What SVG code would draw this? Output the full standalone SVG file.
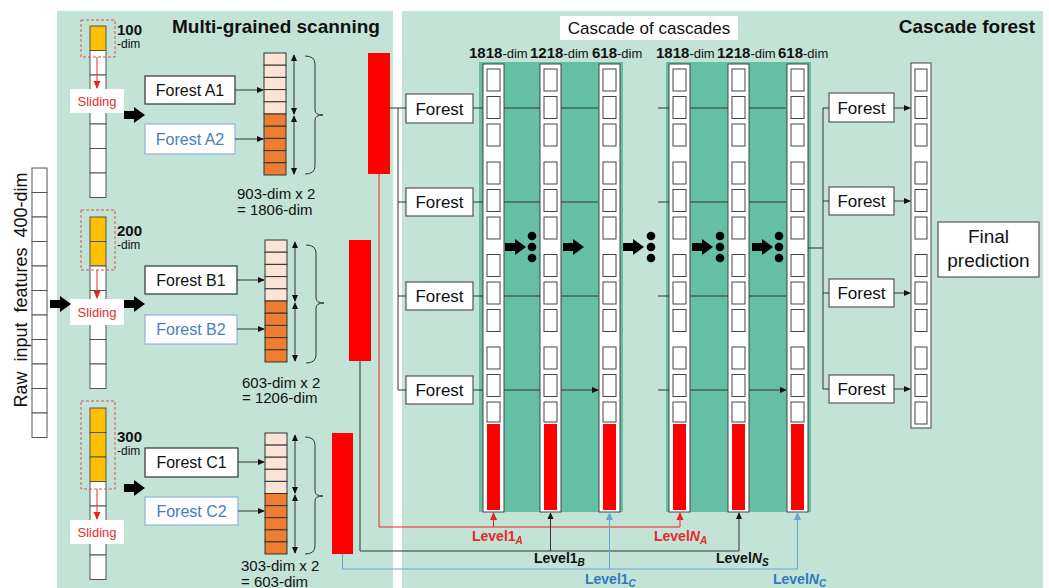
<svg xmlns="http://www.w3.org/2000/svg" xmlns:xlink="http://www.w3.org/1999/xlink" width="1049" height="588" viewBox="0 0 1049 588">
<style>
text{font-family:"Liberation Sans",Arial,sans-serif;fill:#111}
.bg{fill:#c2e3d6}
.band{fill:#64bfa5}
.cell{fill:#fff;stroke:#555;stroke-width:1}
.ccell{fill:#fff;stroke:#444;stroke-width:1}
.org{fill:#ffc000;stroke:#555;stroke-width:1}
.pch{fill:#fbe4d5;stroke:#333;stroke-width:1}
.ora{fill:#ed7d31;stroke:#333;stroke-width:1}
.fbox{fill:#fff;stroke:#333;stroke-width:1.2}
.gbox{fill:#fff;stroke:#555;stroke-width:1.2}
.bbox{fill:#fff;stroke:#8fb1dc;stroke-width:1.2}
.ln{stroke:#333;stroke-width:1;fill:none}
.rl{stroke:#ee2222;stroke-width:1;fill:none}
.bl{stroke:#6aa3d8;stroke-width:1;fill:none}
.dash{fill:none;stroke:#e05050;stroke-width:1;stroke-dasharray:3,2}
.red{fill:#ff0000}
.f16{font-size:16px}
.f17{font-size:17px}
.lv{font-size:14px;font-weight:bold}
.sub{font-size:10px;font-style:italic}
</style>
<defs>
<marker id="ak" viewBox="0 0 8 8" refX="7" refY="4" markerWidth="7" markerHeight="7" markerUnits="userSpaceOnUse" orient="auto-start-reverse"><path d="M0,0.5L8,4L0,7.5Z" fill="#111"/></marker>
<marker id="ar" viewBox="0 0 8 8" refX="7" refY="4" markerWidth="8" markerHeight="8" markerUnits="userSpaceOnUse" orient="auto"><path d="M0,0.5L8,4L0,7.5Z" fill="#ee2222"/></marker>
<marker id="ab" viewBox="0 0 8 8" refX="7" refY="4" markerWidth="8" markerHeight="8" markerUnits="userSpaceOnUse" orient="auto"><path d="M0,0.5L8,4L0,7.5Z" fill="#6aa3d8"/></marker>
<path id="barr" d="M0,-4H10V-8L21,0L10,8V4H0Z" fill="#000"/>
<g id="ccol">
<rect x="0" y="64" width="21" height="448" fill="#fff" stroke="#444" stroke-width="1"/>
<rect class="ccell" x="4" y="69" width="13" height="22"/>
<rect class="ccell" x="4" y="96.5" width="13" height="22"/>
<rect class="ccell" x="4" y="124" width="13" height="22"/>
<rect class="ccell" x="4" y="162" width="13" height="22"/>
<rect class="ccell" x="4" y="189.5" width="13" height="22"/>
<rect class="ccell" x="4" y="217" width="13" height="22"/>
<rect class="ccell" x="4" y="254.5" width="13" height="22"/>
<rect class="ccell" x="4" y="282" width="13" height="22"/>
<rect class="ccell" x="4" y="309.5" width="13" height="22"/>
<rect class="ccell" x="4" y="347" width="13" height="22"/>
<rect class="ccell" x="4" y="374.5" width="13" height="22"/>
<rect class="ccell" x="4" y="402" width="13" height="20"/>
<rect class="red" x="4" y="424" width="13" height="86"/>
</g>
<g id="fcol">
<rect x="0" y="63" width="20" height="365" fill="#fff" stroke="#444" stroke-width="1"/>
<rect class="ccell" x="4" y="69" width="12" height="22"/>
<rect class="ccell" x="4" y="96.5" width="12" height="22"/>
<rect class="ccell" x="4" y="124" width="12" height="22"/>
<rect class="ccell" x="4" y="162" width="12" height="22"/>
<rect class="ccell" x="4" y="189.5" width="12" height="22"/>
<rect class="ccell" x="4" y="217" width="12" height="22"/>
<rect class="ccell" x="4" y="254.5" width="12" height="22"/>
<rect class="ccell" x="4" y="282" width="12" height="22"/>
<rect class="ccell" x="4" y="309.5" width="12" height="22"/>
<rect class="ccell" x="4" y="347" width="12" height="22"/>
<rect class="ccell" x="4" y="374.5" width="12" height="22"/>
<rect class="ccell" x="4" y="402" width="12" height="22"/>
</g>
</defs>

<rect x="0" y="0" width="1049" height="588" fill="#fff"/>
<rect class="bg" x="57" y="11" width="336" height="577"/>
<rect class="bg" x="402" y="11" width="641" height="577"/>
<rect class="band" x="479" y="62" width="144" height="450"/>
<rect class="band" x="666" y="62" width="145" height="450"/>

<text x="172" y="33" font-size="19" font-weight="bold">Multi-grained scanning</text>
<text x="1035" y="33" font-size="19" font-weight="bold" text-anchor="end">Cascade forest</text>
<g id="cascade-title">
<rect x="560" y="16" width="178" height="24" fill="#fff"/>
<text x="649" y="34" class="f17" text-anchor="middle">Cascade of cascades</text>
</g>

<g id="raw-input">
<rect class="cell" x="32" y="168" width="15" height="24.5"/>
<rect class="cell" x="32" y="192.5" width="15" height="24.5"/>
<rect class="cell" x="32" y="217" width="15" height="24.5"/>
<rect class="cell" x="32" y="241.5" width="15" height="24.5"/>
<rect class="cell" x="32" y="266" width="15" height="24.5"/>
<rect class="cell" x="32" y="290.5" width="15" height="24.5"/>
<rect class="cell" x="32" y="315" width="15" height="24.5"/>
<rect class="cell" x="32" y="339.5" width="15" height="24.5"/>
<rect class="cell" x="32" y="364" width="15" height="24.5"/>
<rect class="cell" x="32" y="388.5" width="15" height="24.5"/>
<rect class="cell" x="32" y="413" width="15" height="24.5"/>
<text transform="translate(27,290) rotate(-90)" font-size="18" text-anchor="middle" word-spacing="5">Raw input features 400-dim</text>
</g>

<g id="scan-a">
<rect class="org" x="90" y="26" width="16" height="24.5"/>
<rect class="cell" x="90" y="50.5" width="16" height="24.5"/>
<rect class="cell" x="90" y="75" width="16" height="24.5"/>
<rect class="cell" x="90" y="99.5" width="16" height="24.5"/>
<rect class="cell" x="90" y="124" width="16" height="24.5"/>
<rect class="cell" x="90" y="148.5" width="16" height="24.5"/>
<rect class="cell" x="90" y="173" width="16" height="24.5"/>
<rect class="dash" x="81" y="20" width="34" height="37"/>
<text x="117" y="35" font-size="15" font-weight="bold">100</text>
<text x="117" y="48" font-size="12">-dim</text>
</g>
<g id="scan-b">
<rect class="org" x="90" y="217" width="16" height="24.5"/>
<rect class="org" x="90" y="241.5" width="16" height="24.5"/>
<rect class="cell" x="90" y="266" width="16" height="24.5"/>
<rect class="cell" x="90" y="290.5" width="16" height="24.5"/>
<rect class="cell" x="90" y="315" width="16" height="24.5"/>
<rect class="cell" x="90" y="339.5" width="16" height="24.5"/>
<rect class="cell" x="90" y="364" width="16" height="24.5"/>
<rect class="dash" x="81" y="210" width="34" height="60"/>
<text x="117" y="236" font-size="15" font-weight="bold">200</text>
<text x="117" y="249" font-size="12">-dim</text>
</g>
<g id="scan-c">
<rect class="org" x="90" y="408" width="16" height="24.5"/>
<rect class="org" x="90" y="432.5" width="16" height="24.5"/>
<rect class="org" x="90" y="457" width="16" height="24.5"/>
<rect class="cell" x="90" y="481.5" width="16" height="24.5"/>
<rect class="cell" x="90" y="506" width="16" height="24.5"/>
<rect class="cell" x="90" y="530.5" width="16" height="24.5"/>
<rect class="cell" x="90" y="555" width="16" height="24.5"/>
<rect class="dash" x="81" y="401" width="34" height="88"/>
<text x="117" y="442" font-size="15" font-weight="bold">300</text>
<text x="117" y="455" font-size="12">-dim</text>
</g>

<g id="sliding-a"><rect x="70" y="89" width="54" height="24" fill="#fff"/><text x="97" y="106" font-size="13" text-anchor="middle" style="fill:#e03030">Sliding</text></g>
<g id="sliding-b"><rect x="70" y="299" width="54" height="26" fill="#fff"/><text x="97" y="317" font-size="13" text-anchor="middle" style="fill:#e03030">Sliding</text></g>
<g id="sliding-c"><rect x="70" y="520" width="54" height="24" fill="#fff"/><text x="97" y="537" font-size="13" text-anchor="middle" style="fill:#e03030">Sliding</text></g>

<g id="forest-a1"><rect class="fbox" x="145" y="76" width="90" height="28"/><text x="190" y="96" class="f16" text-anchor="middle">Forest A1</text></g>
<g id="forest-a2"><rect class="bbox" x="145" y="124" width="90" height="30"/><text x="190" y="145" class="f16" text-anchor="middle" style="fill:#4a7ebb">Forest A2</text></g>
<g id="forest-b1"><rect class="fbox" x="145" y="266" width="92" height="28"/><text x="191" y="286" class="f16" text-anchor="middle">Forest B1</text></g>
<g id="forest-b2"><rect class="bbox" x="145" y="315" width="92" height="29"/><text x="191" y="335" class="f16" text-anchor="middle" style="fill:#4a7ebb">Forest B2</text></g>
<g id="forest-c1"><rect class="fbox" x="145" y="448" width="93" height="29"/><text x="191.5" y="468" class="f16" text-anchor="middle">Forest C1</text></g>
<g id="forest-c2"><rect class="bbox" x="145" y="497" width="93" height="28"/><text x="191.5" y="517" class="f16" text-anchor="middle" style="fill:#4a7ebb">Forest C2</text></g>

<g id="vec-a">
<rect class="pch" x="264" y="53" width="22" height="12.2"/><rect class="pch" x="264" y="65.2" width="22" height="12.2"/><rect class="pch" x="264" y="77.4" width="22" height="12.2"/><rect class="pch" x="264" y="89.6" width="22" height="12.2"/><rect class="pch" x="264" y="101.8" width="22" height="12.2"/>
<rect class="ora" x="264" y="114" width="22" height="12.2"/><rect class="ora" x="264" y="126.2" width="22" height="12.2"/><rect class="ora" x="264" y="138.4" width="22" height="12.2"/><rect class="ora" x="264" y="150.6" width="22" height="12.2"/><rect class="ora" x="264" y="162.8" width="22" height="12.2"/>
<path class="ln" d="M305,56Q315,56 315,64V110Q315,115 323,115Q315,115 315,120V166Q315,174 305,174"/>
<text x="237" y="199" font-size="15">903-dim x 2</text>
<text x="237" y="215" font-size="15">= 1806-dim</text>
</g>
<g id="vec-b">
<rect class="pch" x="265" y="240" width="22" height="12.2"/><rect class="pch" x="265" y="252.2" width="22" height="12.2"/><rect class="pch" x="265" y="264.4" width="22" height="12.2"/><rect class="pch" x="265" y="276.6" width="22" height="12.2"/><rect class="pch" x="265" y="288.8" width="22" height="12.2"/>
<rect class="ora" x="265" y="301" width="22" height="12.2"/><rect class="ora" x="265" y="313.2" width="22" height="12.2"/><rect class="ora" x="265" y="325.4" width="22" height="12.2"/><rect class="ora" x="265" y="337.6" width="22" height="12.2"/><rect class="ora" x="265" y="349.8" width="22" height="12.2"/>
<path class="ln" d="M306,245Q316,245 316,253V298Q316,303 324,303Q316,303 316,308V355Q316,363 306,363"/>
<text x="242" y="388" font-size="15">603-dim x 2</text>
<text x="242" y="403" font-size="15">= 1206-dim</text>
</g>
<g id="vec-c">
<rect class="pch" x="265" y="433" width="22" height="12.1"/><rect class="pch" x="265" y="445.1" width="22" height="12.1"/><rect class="pch" x="265" y="457.2" width="22" height="12.1"/><rect class="pch" x="265" y="469.3" width="22" height="12.1"/><rect class="pch" x="265" y="481.4" width="22" height="12.1"/>
<rect class="ora" x="265" y="493.5" width="22" height="12.1"/><rect class="ora" x="265" y="505.6" width="22" height="12.1"/><rect class="ora" x="265" y="517.7" width="22" height="12.1"/><rect class="ora" x="265" y="529.8" width="22" height="12.1"/><rect class="ora" x="265" y="541.9" width="22" height="12.1"/>
<path class="ln" d="M305,437Q315,437 315,445V491Q315,496 323,496Q315,496 315,501V546Q315,554 305,554"/>
<text x="241" y="571" font-size="15">303-dim x 2</text>
<text x="241" y="587" font-size="15">= 603-dim</text>
</g>

<g id="concat-a"><rect class="red" x="368" y="53" width="22" height="121"/></g>
<g id="concat-b"><rect class="red" x="349" y="240" width="22" height="121"/></g>
<g id="concat-c"><rect class="red" x="332" y="433" width="21" height="121"/></g>

<g id="cforest-1"><rect class="gbox" x="406" y="94" width="67" height="29"/><text x="439.5" y="114.5" class="f17" text-anchor="middle">Forest</text></g>
<g id="cforest-2"><rect class="gbox" x="406" y="188" width="67" height="28"/><text x="439.5" y="208" class="f17" text-anchor="middle">Forest</text></g>
<g id="cforest-3"><rect class="gbox" x="406" y="282" width="67" height="28"/><text x="439.5" y="302" class="f17" text-anchor="middle">Forest</text></g>
<g id="cforest-4"><rect class="gbox" x="406" y="376" width="67" height="28"/><text x="439.5" y="396" class="f17" text-anchor="middle">Forest</text></g>

<g id="dims">
<text x="469" y="58" font-size="15" font-weight="bold">1818<tspan font-size="13" font-weight="normal">-dim</tspan></text>
<text x="530" y="58" font-size="15" font-weight="bold">1218<tspan font-size="13" font-weight="normal">-dim</tspan></text>
<text x="592" y="58" font-size="15" font-weight="bold">618<tspan font-size="13" font-weight="normal">-dim</tspan></text>
<text x="656" y="58" font-size="15" font-weight="bold">1818<tspan font-size="13" font-weight="normal">-dim</tspan></text>
<text x="717" y="58" font-size="15" font-weight="bold">1218<tspan font-size="13" font-weight="normal">-dim</tspan></text>
<text x="778" y="58" font-size="15" font-weight="bold">618<tspan font-size="13" font-weight="normal">-dim</tspan></text>
</g>

<g id="col-1"><use xlink:href="#ccol" href="#ccol" x="483"/></g>
<g id="col-2"><use xlink:href="#ccol" href="#ccol" x="540"/></g>
<g id="col-3"><use xlink:href="#ccol" href="#ccol" x="599"/></g>
<g id="col-4"><use xlink:href="#ccol" href="#ccol" x="669"/></g>
<g id="col-5"><use xlink:href="#ccol" href="#ccol" x="728"/></g>
<g id="col-6"><use xlink:href="#ccol" href="#ccol" x="787"/></g>
<g id="col-final"><use xlink:href="#fcol" href="#fcol" x="911"/></g>

<g id="rforest-1"><rect class="gbox" x="829" y="93" width="65" height="29"/><text x="861.5" y="113.5" class="f17" text-anchor="middle">Forest</text></g>
<g id="rforest-2"><rect class="gbox" x="829" y="187" width="65" height="28"/><text x="861.5" y="207" class="f17" text-anchor="middle">Forest</text></g>
<g id="rforest-3"><rect class="gbox" x="829" y="279" width="65" height="28"/><text x="861.5" y="299" class="f17" text-anchor="middle">Forest</text></g>
<g id="rforest-4"><rect class="gbox" x="829" y="375" width="65" height="28"/><text x="861.5" y="395" class="f17" text-anchor="middle">Forest</text></g>

<g id="final"><rect class="gbox" x="938" y="222" width="101" height="55"/><text x="988.5" y="243" font-size="19" text-anchor="middle">Final</text><text x="988.5" y="267" font-size="19" text-anchor="middle">prediction</text></g>

<g id="connectors">
<use href="#barr" xlink:href="#barr" x="50" y="304"/>
<use href="#barr" xlink:href="#barr" x="124" y="115"/>
<use href="#barr" xlink:href="#barr" x="124" y="304"/>
<use href="#barr" xlink:href="#barr" x="124" y="488"/>
<use href="#barr" xlink:href="#barr" x="505" y="247"/>
<use href="#barr" xlink:href="#barr" x="563" y="247"/>
<use href="#barr" xlink:href="#barr" x="623" y="247"/>
<use href="#barr" xlink:href="#barr" x="692" y="247"/>
<use href="#barr" xlink:href="#barr" x="752" y="247"/>
<g fill="#000">
<circle cx="532" cy="236" r="4.3"/><circle cx="532" cy="247" r="4.3"/><circle cx="532" cy="258" r="4.3"/>
<circle cx="651" cy="236" r="4.3"/><circle cx="651" cy="247" r="4.3"/><circle cx="651" cy="258" r="4.3"/>
<circle cx="720" cy="236" r="4.3"/><circle cx="720" cy="247" r="4.3"/><circle cx="720" cy="258" r="4.3"/>
<circle cx="779" cy="236" r="4.3"/><circle cx="779" cy="247" r="4.3"/><circle cx="779" cy="258" r="4.3"/>
</g>
<path d="M97,57V88" stroke="#e03030" stroke-width="1" marker-end="url(#ar)"/>
<path d="M97,270V298" stroke="#e03030" stroke-width="1" marker-end="url(#ar)"/>
<path d="M97,489V519" stroke="#e03030" stroke-width="1" marker-end="url(#ar)"/>
<path class="ln" d="M235,90H263" marker-end="url(#ak)"/>
<path class="ln" d="M235,139H263" marker-end="url(#ak)"/>
<path class="ln" d="M237,280H264" marker-end="url(#ak)"/>
<path class="ln" d="M237,329H264" marker-end="url(#ak)"/>
<path class="ln" d="M238,462H264" marker-end="url(#ak)"/>
<path class="ln" d="M238,511H264" marker-end="url(#ak)"/>
<path class="ln" d="M294,55V114" marker-start="url(#ak)" marker-end="url(#ak)"/>
<path class="ln" d="M294,116V174" marker-start="url(#ak)" marker-end="url(#ak)"/>
<path class="ln" d="M295,242V301" marker-start="url(#ak)" marker-end="url(#ak)"/>
<path class="ln" d="M295,303V361" marker-start="url(#ak)" marker-end="url(#ak)"/>
<path class="ln" d="M295,435V493" marker-start="url(#ak)" marker-end="url(#ak)"/>
<path class="ln" d="M295,495V553" marker-start="url(#ak)" marker-end="url(#ak)"/>
<path class="ln" d="M390,108H406M398,108V390M398,202H406M398,296H406M398,390H406"/>
<path class="ln" d="M473,108H483M504,108H540M473,202H483M504,202H540M473,296H483M504,296H540M473,390H483M504,390H540"/>
<path class="ln" d="M561,108H598M561,202H598M561,296H598M561,390H598" marker-end="url(#ak)"/>
<path class="ln" d="M658,108H669M690,108H728M658,202H669M690,202H728M658,296H669M690,296H728M658,390H669M690,390H728"/>
<path class="ln" d="M749,108H786M749,202H786M749,296H786M749,390H786" marker-end="url(#ak)"/>
<path class="ln" d="M808,248H823M823,108V389M823,108H829M823,201H829M823,293H829M823,389H829"/>
<path class="ln" d="M894,108H910" marker-end="url(#ak)"/>
<path class="ln" d="M894,201H910" marker-end="url(#ak)"/>
<path class="ln" d="M894,293H910" marker-end="url(#ak)"/>
<path class="ln" d="M894,389H910" marker-end="url(#ak)"/>
<path class="rl" d="M379,174V527H680"/>
<path class="rl" d="M493.5,527V513" marker-end="url(#ar)"/>
<path class="rl" d="M680,527V513" marker-end="url(#ar)"/>
<path class="ln" d="M360,361V551H739"/>
<path class="ln" d="M550.5,551V513" marker-end="url(#ak)"/>
<path class="ln" d="M739,551V513" marker-end="url(#ak)"/>
<path class="bl" d="M342.5,554V569H797.5"/>
<path class="bl" d="M609.5,569V513" marker-end="url(#ab)"/>
<path class="bl" d="M797.5,569V513" marker-end="url(#ab)"/>
</g>

<g id="level-labels">
<text x="472" y="541" class="lv" style="fill:#e8282b">Level1<tspan class="sub" dy="3">A</tspan></text>
<text x="654" y="541" class="lv" style="fill:#e8282b">Level<tspan font-style="italic">N</tspan><tspan class="sub" dy="3">A</tspan></text>
<text x="534" y="563" class="lv">Level1<tspan class="sub" dy="3">B</tspan></text>
<text x="716" y="563" class="lv">Level<tspan font-style="italic">N</tspan><tspan class="sub" dy="3">S</tspan></text>
<text x="585" y="584" class="lv" style="fill:#2e78c0">Level1<tspan class="sub" dy="3">C</tspan></text>
<text x="773" y="584" class="lv" style="fill:#2e78c0">Level<tspan font-style="italic">N</tspan><tspan class="sub" dy="3">C</tspan></text>
</g>
</svg>
